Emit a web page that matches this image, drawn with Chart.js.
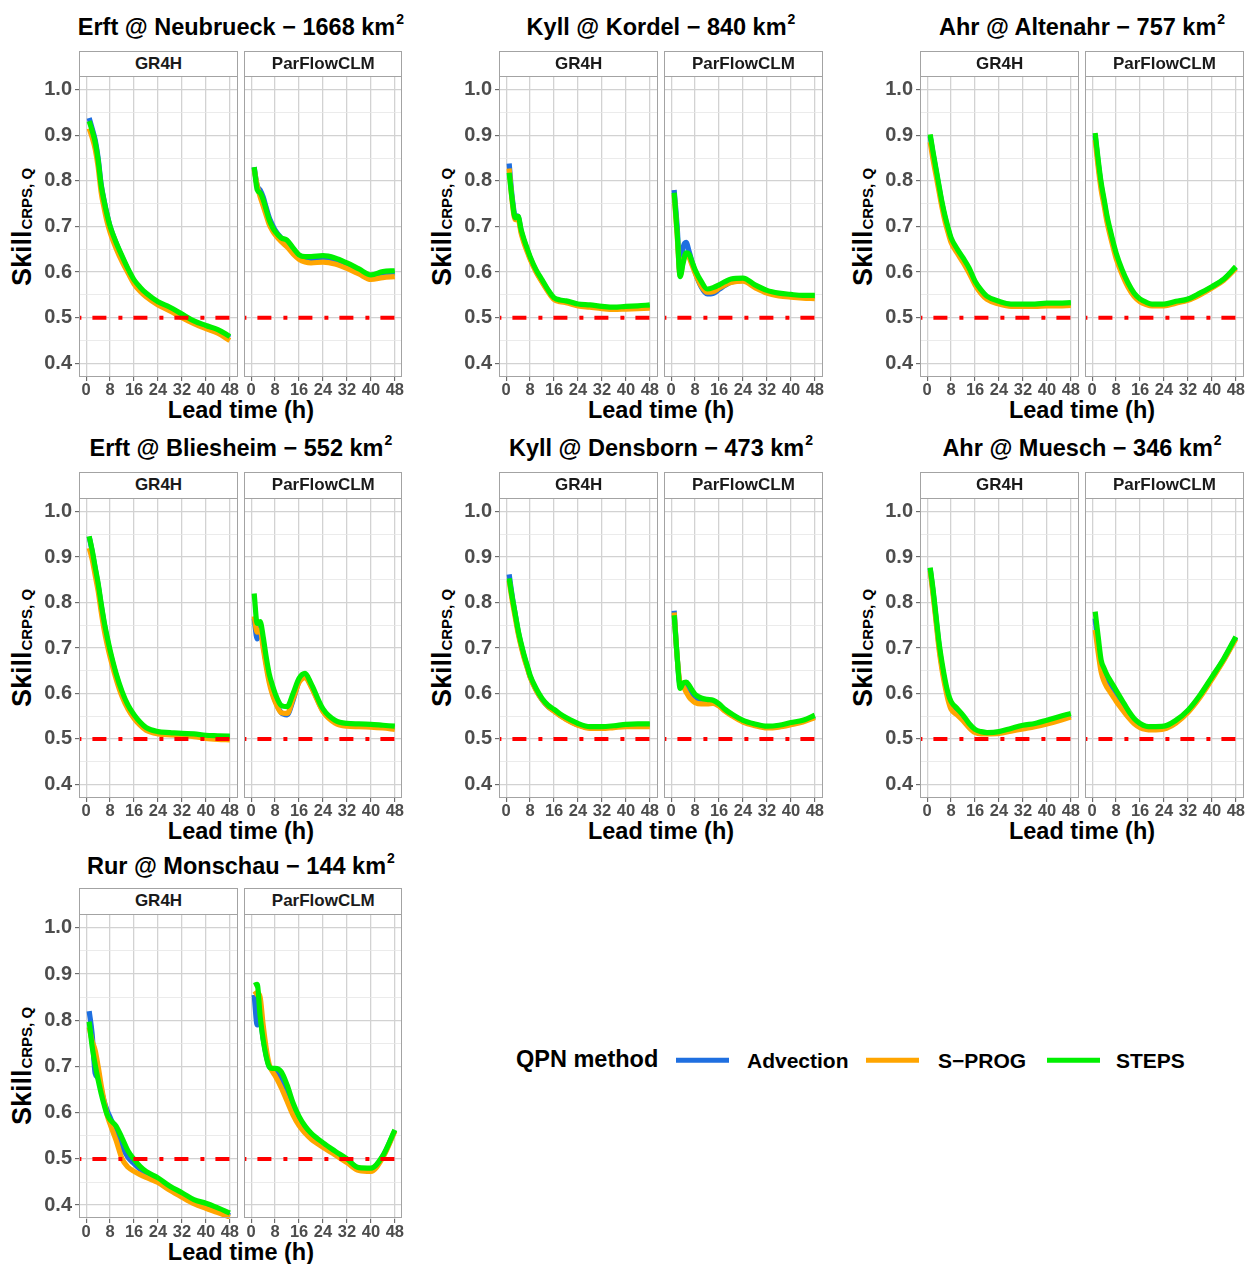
<!DOCTYPE html>
<html>
<head>
<meta charset="utf-8">
<title>Skill CRPS per catchment</title>
<script src="https://cdn.jsdelivr.net/npm/chart.js@4.4.1/dist/chart.umd.min.js"></script>
<style>
  body { margin: 0; background: #fff; font-family: "Liberation Sans", Arial, sans-serif; }
  #fig { position: relative; width: 1247px; height: 1264px; overflow: hidden; background: #fff; }
  #fig div { position: absolute; white-space: nowrap; }
  .title { font-size: 23.5px; font-weight: bold; color: #000; line-height: 1; transform: translate(-50%, -50%); }
  .title .sup { font-size: 14px; position: relative; top: -11px; margin-left: 1px; }
  .xlab { font-size: 23.5px; font-weight: bold; color: #000; line-height: 1; transform: translate(-50%, -50%); }
  .ylab { font-size: 27px; font-weight: bold; color: #000; line-height: 27px; transform: translate(-50%, -50%) rotate(-90deg); }
  .ylab .sub { font-size: 15px; position: relative; top: 1px; margin-left: 1px; }
  .strip { box-sizing: border-box; border: 1px solid #a3a3a3; background: #fff; font-size: 17px; font-weight: bold;
           color: #1a1a1a; text-align: center; z-index: 2; }
  .frame { box-sizing: border-box; border: 1px solid #a3a3a3; z-index: 3; pointer-events: none; }
  .facet { z-index: 1; }
  .leg { font-size: 21px; font-weight: bold; color: #000; line-height: 1; transform: translateY(-50%); }
  .leg.head { font-size: 23.5px; }
  .key { height: 4.5px; transform: translateY(-50%); }
</style>
</head>
<body>
<div id="fig"></div>
<script>
// lead times (h) shared by every curve
const leadTimes = [1, 2, 3, 4, 5, 6, 7, 8, 10, 12, 14, 16, 18, 20, 24, 28, 32, 36, 40, 44, 48];
const xTicks = [0, 8, 16, 24, 32, 40, 48];
const yTicks = [0.4, 0.45, 0.5, 0.55, 0.6, 0.65, 0.7, 0.75, 0.8, 0.85, 0.9, 0.95, 1.0];
const xMin = -2.4, xMax = 50.4;
const yMin = 0.37, yMax = 1.03;
const skillRef = 0.5;

const models = ['GR4H', 'ParFlowCLM'];
const methods = ['Advection', 'S\u2212PROG', 'STEPS'];
const methodColors = ['#1f6fe0', '#ffa500', '#00f000'];

// Erft @ Neubrueck
const neubrueckGr4hAdv   = [0.938, 0.915, 0.89, 0.85, 0.793, 0.757, 0.726, 0.70, 0.664, 0.633, 0.605, 0.58, 0.564, 0.551, 0.532, 0.52, 0.505, 0.49, 0.48, 0.471, 0.456];
const neubrueckGr4hSprog = [0.915, 0.895, 0.87, 0.83, 0.775, 0.74, 0.71, 0.687, 0.652, 0.623, 0.598, 0.574, 0.558, 0.546, 0.528, 0.515, 0.50, 0.487, 0.476, 0.466, 0.45];
const neubrueckGr4hSteps = [0.931, 0.91, 0.885, 0.845, 0.79, 0.755, 0.725, 0.70, 0.665, 0.635, 0.607, 0.583, 0.567, 0.554, 0.535, 0.523, 0.508, 0.493, 0.483, 0.474, 0.459];
const neubrueckPfAdv     = [0.83, 0.79, 0.78, 0.765, 0.742, 0.72, 0.705, 0.692, 0.675, 0.664, 0.648, 0.633, 0.629, 0.628, 0.630, 0.626, 0.615, 0.603, 0.592, 0.597, 0.598];
const neubrueckPfSprog   = [0.825, 0.79, 0.765, 0.745, 0.725, 0.705, 0.692, 0.682, 0.667, 0.655, 0.640, 0.628, 0.622, 0.620, 0.622, 0.618, 0.608, 0.596, 0.584, 0.588, 0.590];
const neubrueckPfSteps   = [0.830, 0.781, 0.774, 0.759, 0.737, 0.715, 0.700, 0.689, 0.675, 0.670, 0.653, 0.638, 0.634, 0.634, 0.636, 0.631, 0.620, 0.607, 0.594, 0.601, 0.603];

// Kyll @ Kordel
const kordelGr4hAdv   = [0.838, 0.765, 0.725, 0.722, 0.69, 0.668, 0.649, 0.631, 0.602, 0.58, 0.559, 0.542, 0.537, 0.535, 0.528, 0.526, 0.523, 0.521, 0.522, 0.523, 0.524];
const kordelGr4hSprog = [0.827, 0.755, 0.715, 0.715, 0.685, 0.663, 0.645, 0.628, 0.60, 0.578, 0.557, 0.54, 0.535, 0.533, 0.526, 0.523, 0.52, 0.518, 0.519, 0.52, 0.521];
const kordelGr4hSteps = [0.818, 0.759, 0.719, 0.722, 0.693, 0.671, 0.652, 0.634, 0.605, 0.583, 0.561, 0.544, 0.539, 0.537, 0.530, 0.528, 0.525, 0.523, 0.525, 0.526, 0.528];
const kordelPfAdv     = [0.78, 0.70, 0.595, 0.655, 0.665, 0.645, 0.622, 0.60, 0.568, 0.552, 0.553, 0.562, 0.571, 0.578, 0.582, 0.570, 0.558, 0.552, 0.549, 0.547, 0.547];
const kordelPfSprog   = [0.77, 0.68, 0.592, 0.625, 0.64, 0.632, 0.615, 0.598, 0.57, 0.556, 0.557, 0.565, 0.572, 0.577, 0.580, 0.566, 0.554, 0.548, 0.545, 0.543, 0.542];
const kordelPfSteps   = [0.774, 0.686, 0.590, 0.620, 0.642, 0.639, 0.622, 0.605, 0.580, 0.563, 0.566, 0.572, 0.579, 0.585, 0.587, 0.572, 0.560, 0.554, 0.551, 0.549, 0.549];

// Ahr @ Altenahr
const altenahrGr4hAdv   = [0.898, 0.858, 0.821, 0.784, 0.748, 0.718, 0.693, 0.671, 0.647, 0.627, 0.605, 0.577, 0.558, 0.544, 0.533, 0.528, 0.528, 0.528, 0.53, 0.53, 0.531];
const altenahrGr4hSprog = [0.885, 0.845, 0.81, 0.775, 0.74, 0.71, 0.686, 0.665, 0.642, 0.621, 0.598, 0.572, 0.553, 0.54, 0.53, 0.525, 0.525, 0.525, 0.526, 0.526, 0.527];
const altenahrGr4hSteps = [0.902, 0.862, 0.825, 0.788, 0.752, 0.722, 0.697, 0.675, 0.651, 0.631, 0.609, 0.580, 0.561, 0.547, 0.536, 0.530, 0.530, 0.530, 0.532, 0.532, 0.533];
const altenahrPfAdv     = [0.90, 0.84, 0.79, 0.753, 0.716, 0.688, 0.661, 0.637, 0.601, 0.572, 0.551, 0.538, 0.532, 0.528, 0.528, 0.534, 0.54, 0.552, 0.567, 0.584, 0.61];
const altenahrPfSprog   = [0.89, 0.83, 0.78, 0.745, 0.708, 0.68, 0.654, 0.63, 0.595, 0.567, 0.547, 0.535, 0.529, 0.526, 0.526, 0.532, 0.538, 0.55, 0.565, 0.582, 0.608];
const altenahrPfSteps   = [0.905, 0.847, 0.796, 0.759, 0.722, 0.693, 0.666, 0.642, 0.605, 0.576, 0.554, 0.541, 0.534, 0.530, 0.530, 0.536, 0.541, 0.554, 0.568, 0.585, 0.612];

// Erft @ Bliesheim
const bliesheimGr4hAdv   = [0.945, 0.912, 0.875, 0.838, 0.794, 0.754, 0.72, 0.69, 0.64, 0.60, 0.57, 0.55, 0.534, 0.523, 0.514, 0.512, 0.51, 0.509, 0.506, 0.505, 0.504];
const bliesheimGr4hSprog = [0.92, 0.895, 0.86, 0.825, 0.78, 0.74, 0.708, 0.68, 0.632, 0.593, 0.565, 0.545, 0.53, 0.519, 0.511, 0.509, 0.507, 0.505, 0.501, 0.499, 0.498];
const bliesheimGr4hSteps = [0.946, 0.915, 0.878, 0.842, 0.798, 0.758, 0.725, 0.695, 0.644, 0.604, 0.574, 0.553, 0.537, 0.525, 0.516, 0.514, 0.512, 0.511, 0.508, 0.507, 0.506];
const bliesheimPfAdv     = [0.765, 0.72, 0.75, 0.71, 0.668, 0.632, 0.605, 0.585, 0.558, 0.553, 0.585, 0.627, 0.64, 0.618, 0.562, 0.538, 0.531, 0.530, 0.529, 0.527, 0.525];
const bliesheimPfSprog   = [0.77, 0.735, 0.74, 0.70, 0.66, 0.625, 0.60, 0.582, 0.558, 0.556, 0.588, 0.624, 0.635, 0.615, 0.560, 0.535, 0.528, 0.527, 0.526, 0.524, 0.521];
const bliesheimPfSteps   = [0.820, 0.754, 0.758, 0.725, 0.681, 0.644, 0.62, 0.600, 0.574, 0.571, 0.600, 0.633, 0.644, 0.622, 0.566, 0.541, 0.534, 0.533, 0.532, 0.530, 0.528];

// Kyll @ Densborn
const densbornGr4hAdv   = [0.862, 0.815, 0.775, 0.737, 0.707, 0.681, 0.659, 0.637, 0.608, 0.586, 0.571, 0.562, 0.552, 0.544, 0.531, 0.525, 0.525, 0.527, 0.53, 0.531, 0.531];
const densbornGr4hSprog = [0.848, 0.805, 0.768, 0.732, 0.703, 0.678, 0.657, 0.636, 0.607, 0.586, 0.571, 0.561, 0.551, 0.543, 0.53, 0.523, 0.523, 0.525, 0.527, 0.527, 0.527];
const densbornGr4hSteps = [0.853, 0.812, 0.776, 0.739, 0.710, 0.684, 0.662, 0.640, 0.611, 0.589, 0.574, 0.565, 0.555, 0.547, 0.534, 0.527, 0.527, 0.529, 0.532, 0.533, 0.533];
const densbornPfAdv     = [0.782, 0.68, 0.62, 0.62, 0.61, 0.60, 0.592, 0.587, 0.582, 0.580, 0.580, 0.574, 0.563, 0.554, 0.539, 0.531, 0.526, 0.528, 0.533, 0.539, 0.549];
const densbornPfSprog   = [0.778, 0.68, 0.622, 0.615, 0.603, 0.592, 0.585, 0.58, 0.577, 0.577, 0.578, 0.572, 0.561, 0.552, 0.537, 0.529, 0.524, 0.526, 0.531, 0.537, 0.547];
const densbornPfSteps   = [0.772, 0.681, 0.611, 0.623, 0.625, 0.618, 0.607, 0.598, 0.590, 0.587, 0.585, 0.577, 0.565, 0.556, 0.541, 0.533, 0.528, 0.530, 0.536, 0.541, 0.552];

// Ahr @ Muesch
const mueschGr4hAdv   = [0.875, 0.822, 0.762, 0.703, 0.658, 0.622, 0.592, 0.573, 0.56, 0.546, 0.53, 0.518, 0.514, 0.512, 0.514, 0.52, 0.526, 0.531, 0.537, 0.545, 0.552];
const mueschGr4hSprog = [0.87, 0.815, 0.755, 0.695, 0.65, 0.615, 0.585, 0.565, 0.553, 0.54, 0.525, 0.514, 0.511, 0.511, 0.512, 0.517, 0.522, 0.527, 0.533, 0.54, 0.548];
const mueschGr4hSteps = [0.877, 0.827, 0.768, 0.710, 0.666, 0.629, 0.600, 0.582, 0.567, 0.552, 0.534, 0.521, 0.516, 0.514, 0.516, 0.523, 0.530, 0.534, 0.541, 0.549, 0.556];
const mueschPfAdv     = [0.765, 0.705, 0.66, 0.64, 0.628, 0.618, 0.607, 0.596, 0.575, 0.555, 0.54, 0.53, 0.525, 0.524, 0.525, 0.538, 0.561, 0.594, 0.634, 0.675, 0.723];
const mueschPfSprog   = [0.74, 0.69, 0.647, 0.626, 0.613, 0.603, 0.593, 0.583, 0.565, 0.548, 0.534, 0.525, 0.521, 0.520, 0.522, 0.535, 0.558, 0.591, 0.631, 0.673, 0.72];
const mueschPfSteps   = [0.780, 0.725, 0.673, 0.655, 0.640, 0.629, 0.618, 0.607, 0.585, 0.563, 0.545, 0.534, 0.528, 0.527, 0.528, 0.541, 0.563, 0.596, 0.636, 0.677, 0.725];

// Rur @ Monschau
const monschauGr4hAdv   = [0.82, 0.77, 0.685, 0.675, 0.65, 0.625, 0.605, 0.59, 0.56, 0.527, 0.503, 0.49, 0.478, 0.47, 0.455, 0.438, 0.423, 0.41, 0.40, 0.39, 0.377];
const monschauGr4hSprog = [0.785, 0.755, 0.735, 0.70, 0.66, 0.625, 0.595, 0.575, 0.54, 0.50, 0.482, 0.473, 0.466, 0.46, 0.449, 0.432, 0.417, 0.403, 0.393, 0.384, 0.374];
const monschauGr4hSteps = [0.797, 0.743, 0.704, 0.671, 0.642, 0.617, 0.596, 0.585, 0.571, 0.545, 0.517, 0.499, 0.484, 0.473, 0.459, 0.441, 0.427, 0.412, 0.404, 0.394, 0.383];
const monschauPfAdv     = [0.855, 0.79, 0.80, 0.76, 0.725, 0.70, 0.695, 0.69, 0.67, 0.64, 0.605, 0.582, 0.565, 0.552, 0.532, 0.515, 0.498, 0.479, 0.477, 0.506, 0.561];
const monschauPfSprog   = [0.855, 0.86, 0.85, 0.79, 0.74, 0.705, 0.69, 0.68, 0.655, 0.625, 0.595, 0.572, 0.556, 0.543, 0.525, 0.509, 0.492, 0.475, 0.473, 0.503, 0.56];
const monschauPfSteps   = [0.875, 0.878, 0.808, 0.758, 0.722, 0.700, 0.696, 0.696, 0.689, 0.660, 0.621, 0.592, 0.571, 0.556, 0.535, 0.517, 0.500, 0.481, 0.480, 0.507, 0.563];

const basins = [
  { name: 'Erft @ Neubrueck', area: 1668, row: 0, col: 0,
    facets: [[neubrueckGr4hAdv, neubrueckGr4hSprog, neubrueckGr4hSteps], [neubrueckPfAdv, neubrueckPfSprog, neubrueckPfSteps]] },
  { name: 'Kyll @ Kordel', area: 840, row: 0, col: 1,
    facets: [[kordelGr4hAdv, kordelGr4hSprog, kordelGr4hSteps], [kordelPfAdv, kordelPfSprog, kordelPfSteps]] },
  { name: 'Ahr @ Altenahr', area: 757, row: 0, col: 2,
    facets: [[altenahrGr4hAdv, altenahrGr4hSprog, altenahrGr4hSteps], [altenahrPfAdv, altenahrPfSprog, altenahrPfSteps]] },
  { name: 'Erft @ Bliesheim', area: 552, row: 1, col: 0,
    facets: [[bliesheimGr4hAdv, bliesheimGr4hSprog, bliesheimGr4hSteps], [bliesheimPfAdv, bliesheimPfSprog, bliesheimPfSteps]] },
  { name: 'Kyll @ Densborn', area: 473, row: 1, col: 1,
    facets: [[densbornGr4hAdv, densbornGr4hSprog, densbornGr4hSteps], [densbornPfAdv, densbornPfSprog, densbornPfSteps]] },
  { name: 'Ahr @ Muesch', area: 346, row: 1, col: 2,
    facets: [[mueschGr4hAdv, mueschGr4hSprog, mueschGr4hSteps], [mueschPfAdv, mueschPfSprog, mueschPfSteps]] },
  { name: 'Rur @ Monschau', area: 144, row: 2, col: 0,
    facets: [[monschauGr4hAdv, monschauGr4hSprog, monschauGr4hSteps], [monschauPfAdv, monschauPfSprog, monschauPfSteps]] }
];

// page grid
const colLeft = [79.3, 499.4, 920.4];
const facetW = 158.4, facetGap = 6.4;
const plotTop = [76.3, 497.7, 913.7];
const plotBottom = [377, 798, 1218.3];
const stripH = 25.6;
const titleY = [28, 449, 866.5];
const xlabY = [411, 832, 1253];

const tickFont = 'Liberation Sans, Arial, sans-serif';
const fig = document.getElementById('fig');

function addDiv(cls, css, html) {
  const d = document.createElement('div');
  d.className = cls;
  Object.assign(d.style, css);
  if (html !== undefined) d.innerHTML = html;
  fig.appendChild(d);
  return d;
}

const isMajor = v => Math.abs(v * 10 - Math.round(v * 10)) < 1e-6;

// one chart per facet; the canvas is padded so the chart area lands on the panel box
const PADL = 60, PADR = 16, PADT = 6, PADB = 30;

function drawFacet(left, top, w, h, series, showY) {
  const holder = addDiv('facet', {
    left: (left - PADL) + 'px', top: (top - PADT) + 'px',
    width: (w + PADL + PADR) + 'px', height: (h + PADT + PADB) + 'px'
  });
  const canvas = document.createElement('canvas');
  canvas.width = Math.round(w + PADL + PADR);
  canvas.height = Math.round(h + PADT + PADB);
  holder.appendChild(canvas);
  const yW = showY ? PADL : 0;

  const datasets = [{
    data: [{ x: xMin, y: skillRef }, { x: xMax, y: skillRef }],
    borderColor: '#ff0000', borderWidth: 4, borderDash: [4, 11, 14, 12], borderDashOffset: 1.6,
    borderCapStyle: 'butt', pointRadius: 0, tension: 0
  }];
  // STEPS on top, Advection at the bottom
  for (let k = methods.length - 1; k >= 0; k--) {
    datasets.push({
      label: methods[k],
      data: leadTimes.map((t, i) => ({ x: t, y: series[k][i] })),
      borderColor: methodColors[k], borderWidth: 5.2, pointRadius: 0,
      cubicInterpolationMode: 'monotone', borderCapStyle: 'butt', borderJoinStyle: 'round'
    });
  }

  new Chart(canvas, {
    type: 'line',
    data: { datasets },
    options: {
      responsive: false, animation: false, devicePixelRatio: 1,
      layout: { padding: { left: PADL - yW, right: PADR, top: PADT, bottom: 0 } },
      plugins: { legend: { display: false }, tooltip: { enabled: false } },
      scales: {
        x: {
          type: 'linear', min: xMin, max: xMax,
          afterBuildTicks: s => { s.ticks = xTicks.map(v => ({ value: v })); },
          afterFit: s => { s.height = PADB; s.paddingLeft = 0; s.paddingRight = 0; },
          border: { display: false },
          grid: { color: '#d2d2d2', lineWidth: 1.3, drawTicks: true, tickLength: 4, tickColor: '#555', tickWidth: 1 },
          ticks: { autoSkip: false, maxRotation: 0, padding: 0, color: '#4d4d4d',
                   font: { family: tickFont, size: 16.5, weight: 'bold' } }
        },
        y: {
          type: 'linear', min: yMin, max: yMax,
          afterBuildTicks: s => { s.ticks = yTicks.map(v => ({ value: v })); },
          afterFit: s => { s.width = yW; s.paddingTop = 0; s.paddingBottom = 0; },
          border: { display: false },
          grid: {
            color: c => isMajor(c.tick.value) ? '#d2d2d2' : '#e6e6e6',
            lineWidth: c => isMajor(c.tick.value) ? 1.3 : 0.8,
            drawTicks: showY, tickLength: 4, tickWidth: 1,
            tickColor: c => isMajor(c.tick.value) ? '#555' : 'rgba(0,0,0,0)'
          },
          ticks: {
            display: showY, autoSkip: false, padding: 3, color: '#4d4d4d',
            font: { family: tickFont, size: 20, weight: 'bold' },
            callback: v => isMajor(v) ? v.toFixed(1) : ''
          }
        }
      }
    }
  });
}

basins.forEach(b => {
  const left = colLeft[b.col];
  const right = left + 2 * facetW + facetGap;
  const cx = (left + right) / 2;
  const top = plotTop[b.row];
  const bottom = plotBottom[b.row];

  addDiv('title', { left: cx + 'px', top: titleY[b.row] + 'px' },
    `${b.name} \u2212 ${b.area} km<span class="sup">2</span>`);
  addDiv('xlab', { left: cx + 'px', top: xlabY[b.row] + 'px' }, 'Lead time (h)');
  addDiv('ylab', { left: (left - 46 - 9) + 'px', top: ((top + bottom) / 2) + 'px' },
    'Skill<span class="sub">CRPS, Q</span>');

  models.forEach((m, j) => {
    const fl = left + j * (facetW + facetGap);
    addDiv('strip', {
      left: fl + 'px', top: (top - stripH) + 'px', width: facetW + 'px', height: (stripH + 1) + 'px',
      lineHeight: (stripH - 1) + 'px'
    }, m);
    drawFacet(fl, top, facetW, bottom - top, b.facets[j], j === 0);
    addDiv('frame', { left: fl + 'px', top: top + 'px', width: facetW + 'px', height: (bottom - top) + 'px' });
  });
});

// legend
const legendY = 1060;
addDiv('leg head', { left: '516px', top: legendY + 'px' }, 'QPN method');
const keyLeft = [676, 866, 1047];
const labelLeft = [747, 938, 1116];
methods.forEach((m, k) => {
  addDiv('key', { left: keyLeft[k] + 'px', top: legendY + 'px', width: '53px', background: methodColors[k] });
  addDiv('leg', { left: labelLeft[k] + 'px', top: legendY + 'px' }, m);
});
</script>
</body>
</html>
